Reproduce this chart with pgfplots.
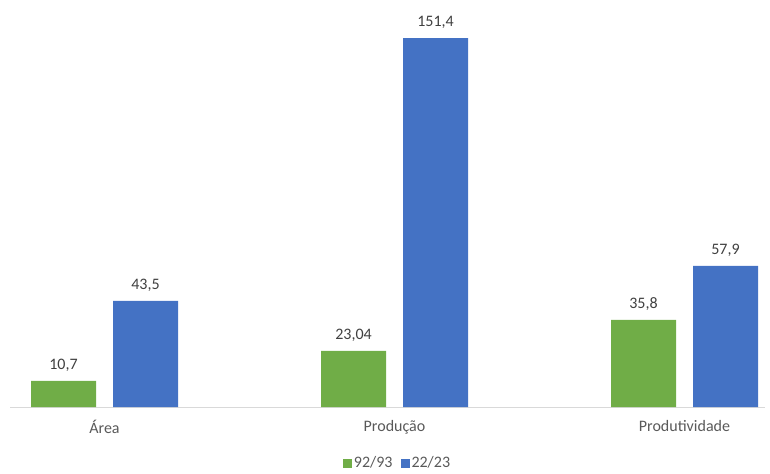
\documentclass[border=0pt]{standalone}
\usepackage{fontspec}
\setmainfont{Carlito}
\usepackage{pgfplots}
\pgfplotsset{compat=1.18}
\usepackage{pgfplotstable}
\definecolor{cgreen}{HTML}{70AD47}
\definecolor{cblue}{HTML}{4472C4}
\definecolor{ctext}{HTML}{404040}
\definecolor{clabel}{HTML}{595959}
\definecolor{cline}{HTML}{D9D9D9}
\newcommand\f{\fontsize{16pt}{18pt}\selectfont}
\pgfplotstableread{
x y lab
0 10.7 10,7
1 23.04 23,04
2 35.8 35,8
}\tgreen
\pgfplotstableread{
x y lab
0 43.5 43,5
1 151.4 151,4
2 57.9 57,9
}\tblue
\begin{document}
\begin{tikzpicture}
\begin{axis}[name=ax,
  scale only axis, width=755pt, height=387pt,
  ybar=17pt, bar width=65pt,
  xmin=-0.3259, xmax=2.2776, ymin=0, ymax=158.8,
  hide y axis,
  axis x line*=bottom,
  x axis line style={draw=cline, line width=1pt},
  xtick={0,1,2}, xticklabels={Área,Produção,Produtividade},
  major tick length=0pt,
  xticklabel style={font=\f, text=clabel, anchor=north, yshift=-10pt},
  point meta=explicit symbolic,
  nodes near coords,
  nodes near coords style={font=\f, text=ctext, anchor=south, yshift=6pt},
  legend columns=2,
  legend style={draw=none, fill=none, at={(0.5,0)}, anchor=center, xshift=10pt, yshift=-56pt, font=\f, text=clabel, /tikz/every even column/.append style={column sep=6pt}},
  legend image code/.code={\fill[#1] (0pt,-4.5pt) rectangle (9pt,4.5pt);},
]
\addplot[draw=none, fill=cgreen] table[x=x, y=y, meta=lab] {\tgreen};
\addlegendentry{92/93}
\addplot[draw=none, fill=cblue] table[x=x, y=y, meta=lab] {\tblue};
\addlegendentry{22/23}
\end{axis}
\path[use as bounding box] ([xshift=-10pt,yshift=-64pt]ax.south west) rectangle ([xshift=5pt,yshift=20pt]ax.north east);
\end{tikzpicture}
\end{document}
